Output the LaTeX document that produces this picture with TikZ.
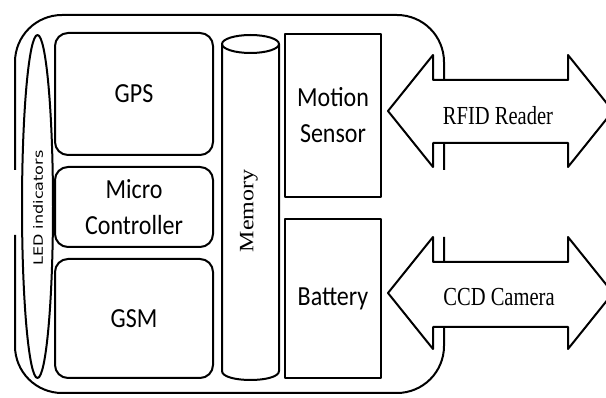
\documentclass[tikz,border=0pt]{standalone}
\usepackage{fontspec}
\usepackage{graphicx}
\setmainfont{Liberation Serif}
\newfontfamily\calfont{Carlito}
\newfontfamily\dvfont{DejaVu Sans}
\usetikzlibrary{shapes.geometric}
\newcommand{\tl}[1]{\scalebox{1}[1.15]{#1}}
\begin{document}
\begin{tikzpicture}[x=1pt,y=-1pt, line width=2pt, line join=round,
  rbox/.style={draw, rounded corners=13pt, font=\calfont\fontsize{24}{36}\selectfont, align=center, inner sep=0pt},
  sqbox/.style={draw, font=\calfont\fontsize{24}{36}\selectfont, align=center, inner sep=0pt},
  arrowlbl/.style={font=\fontsize{26}{30}\selectfont, inner sep=0pt},
  bigarrow/.style={draw, fill=white}]
\clip (0,0) rectangle (606,398);
% outer housing (with the gaps seen in the reference)
\draw[rounded corners=47pt] (444,170) -- (444,15) -- (15,15) -- (15,170);
\draw[rounded corners=47pt] (15,235) -- (15,393) -- (444,393) -- (444,237);
% LED indicators
\node[draw, ellipse, minimum width=31pt, minimum height=343pt, inner sep=0pt] (led) at (37.5,206.5) {};
\node[rotate=90, inner sep=0pt, font=\dvfont\fontsize{16}{18}\selectfont] (ledtxt) at (38,208) {\scalebox{1}[0.8]{LED indicators}};
% left column boxes
\node[rbox, minimum width=158pt, minimum height=122pt] (gps) at (134,94) {\tl{GPS}};
\node[rbox, minimum width=158pt, minimum height=80pt] (mcu) at (134,207) {\tl{Micro}\\\tl{Controller}};
\node[rbox, minimum width=158pt, minimum height=119pt] (gsm) at (134,318.5) {\tl{GSM}};
% memory cylinder
\node[minimum width=57pt, minimum height=336pt, inner sep=0pt] (mem) at (250.5,208) {};
\draw (222,44) -- (222,371) .. controls (222,383) and (279,383) .. (279,371) -- (279,44);
\draw (250.5,44) ellipse [x radius=28.5pt, y radius=9pt];
\node[rotate=90, inner sep=0pt, font=\fontsize{24}{26}\selectfont] (memtxt) at (249,211) {\scalebox{1}[0.85]{Memory}};
% right column boxes
\node[sqbox, minimum width=96pt, minimum height=163pt] (motion) at (333,115.5) {\tl{Motion}\\\tl{Sensor}};
\node[sqbox, minimum width=96pt, minimum height=159pt] (battery) at (333,298.5) {\tl{Battery}};
% double arrows
\draw[bigarrow] (388,111) -- (433,55) -- (433,80) -- (568,80) -- (568,55) -- (613,111) -- (568,167) -- (568,143) -- (433,143) -- (433,167) -- cycle;
\node[arrowlbl] (rfid) at (498,116) {\scalebox{0.79}[1]{RFID Reader}};
\draw[bigarrow] (388,293) -- (433,237) -- (433,262) -- (568,262) -- (568,237) -- (613,293) -- (568,349) -- (568,327) -- (433,327) -- (433,349) -- cycle;
\node[arrowlbl] (ccd) at (499,297) {\scalebox{0.79}[1]{CCD Camera}};
\end{tikzpicture}
\end{document}
